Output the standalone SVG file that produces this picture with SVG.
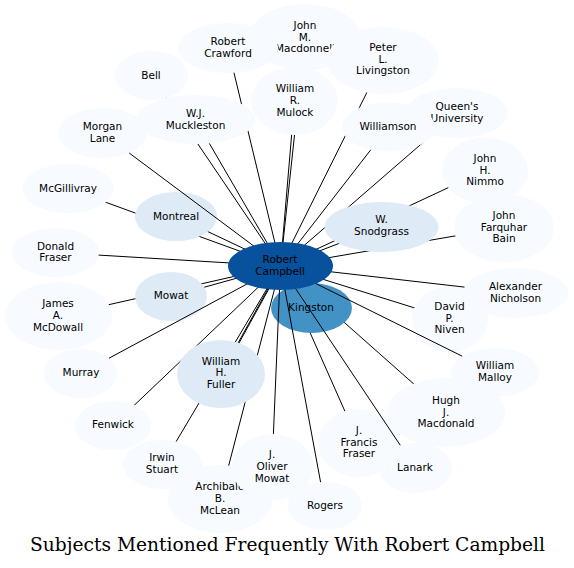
<svg xmlns="http://www.w3.org/2000/svg" width="574" height="568" viewBox="0 0 574 568">
<style>
.e{stroke:#000;stroke-width:1;fill:none}
.l{fill:#f7fbff}
.m{fill:#deebf7}
.k{fill:#4292c6}
.c{fill:#08519c}
text{font-family:"DejaVu Sans","Liberation Sans",sans-serif;font-size:10.5px;fill:#000;text-anchor:middle}
.title{font-family:"DejaVu Serif","Liberation Serif",serif;font-size:18px;text-anchor:middle}
</style>
<rect width="574" height="568" fill="#fff"/>
<g id="connectors-back">
<line class="e" x1="280.5" y1="266" x2="151.5" y2="75.5"/>
<line class="e" x1="280.5" y1="266" x2="228" y2="48"/>
<line class="e" x1="280.5" y1="266" x2="305" y2="37"/>
<line class="e" x1="280.5" y1="266" x2="294.5" y2="101"/>
<line class="e" x1="280.5" y1="266" x2="383" y2="60"/>
<line class="e" x1="280.5" y1="266" x2="388.5" y2="127"/>
<line class="e" x1="280.5" y1="266" x2="457" y2="113"/>
<line class="e" x1="280.5" y1="266" x2="485" y2="170.5"/>
<line class="e" x1="280.5" y1="266" x2="504" y2="227.5"/>
<line class="e" x1="280.5" y1="266" x2="381.5" y2="227"/>
<line class="e" x1="280.5" y1="266" x2="450" y2="319"/>
<line class="e" x1="280.5" y1="266" x2="446" y2="412.5"/>
<line class="e" x1="280.5" y1="266" x2="359" y2="443"/>
<line class="e" x1="280.5" y1="266" x2="220" y2="499"/>
<line class="e" x1="280.5" y1="266" x2="162.5" y2="464.5"/>
<line class="e" x1="280.5" y1="266" x2="113" y2="425.5"/>
<line class="e" x1="280.5" y1="266" x2="221" y2="374"/>
<line class="e" x1="282" y1="265" x2="222.5" y2="373"/>
<line class="e" x1="280.5" y1="266" x2="58.5" y2="316"/>
<line class="e" x1="280.5" y1="266" x2="171" y2="296.5"/>
<line class="e" x1="280.5" y1="266" x2="55.5" y2="252.5"/>
<line class="e" x1="280.5" y1="266" x2="68" y2="188.5"/>
<line class="e" x1="280.5" y1="266" x2="176" y2="216.5"/>
<line class="e" x1="280.5" y1="266" x2="195.5" y2="119.5"/>
<line class="e" x1="280.5" y1="266" x2="311.5" y2="308"/>
</g>
<g id="kingston"><ellipse class="k" cx="311.5" cy="308" rx="40.5" ry="25"/><text x="311" y="311">Kingston</text></g>
<g id="john-m-macdonnell"><ellipse class="l" cx="305" cy="37" rx="56" ry="33"/><text x="305" y="28.8">John</text><text x="305" y="40.5">M.</text><text x="305" y="52.2">Macdonnell</text></g>
<g id="robert-crawford"><ellipse class="l" cx="228" cy="48" rx="50" ry="25"/><text x="228" y="45.2">Robert</text><text x="228" y="56.9">Crawford</text></g>
<g id="peter-l-livingston"><ellipse class="l" cx="383" cy="60.5" rx="56" ry="33.5"/><text x="383" y="51">Peter</text><text x="383" y="62.7">L.</text><text x="383" y="74.4">Livingston</text></g>
<g id="william-r-mulock"><ellipse class="l" cx="294.5" cy="101" rx="43.5" ry="34"/><text x="295" y="92.3">William</text><text x="295" y="104">R.</text><text x="295" y="115.7">Mulock</text></g>
<g id="bell"><ellipse class="l" cx="151.5" cy="75.5" rx="36.5" ry="24.5"/><text x="151" y="78.5">Bell</text></g>
<g id="morgan-lane"><ellipse class="l" cx="102.5" cy="133" rx="44.5" ry="25"/><text x="102.5" y="130.2">Morgan</text><text x="102.5" y="141.9">Lane</text></g>
<g id="wj-muckleston"><ellipse class="l" cx="195.5" cy="119.5" rx="59.5" ry="24.5"/><text x="195.5" y="117">W.J.</text><text x="195.5" y="128.7">Muckleston</text></g>
<g id="queens-university"><ellipse class="l" cx="457" cy="113" rx="51" ry="25"/><text x="457" y="110.2">Queen's</text><text x="457" y="121.9">University</text></g>
<g id="williamson"><ellipse class="l" cx="388.5" cy="127" rx="46.5" ry="24.5"/><text x="388" y="130">Williamson</text></g>
<g id="john-h-nimmo"><ellipse class="l" cx="485" cy="170.5" rx="43" ry="33"/><text x="485" y="161.8">John</text><text x="485" y="173.5">H.</text><text x="485" y="185.2">Nimmo</text></g>
<g id="john-farquhar-bain"><ellipse class="l" cx="504" cy="228" rx="50" ry="34"/><text x="504" y="218.8">John</text><text x="504" y="230.5">Farquhar</text><text x="504" y="242.2">Bain</text></g>
<g id="mcgillivray"><ellipse class="l" cx="68" cy="188.5" rx="46" ry="24.5"/><text x="68" y="191.5">McGillivray</text></g>
<g id="montreal"><ellipse class="m" cx="176" cy="216.5" rx="41" ry="24.5"/><text x="176" y="219.5">Montreal</text></g>
<g id="donald-fraser"><ellipse class="l" cx="55.5" cy="252.5" rx="43.5" ry="24.5"/><text x="55.5" y="249.7">Donald</text><text x="55.5" y="261.4">Fraser</text></g>
<g id="w-snodgrass"><ellipse class="m" cx="381.5" cy="227" rx="57" ry="25"/><text x="381.5" y="222.9">W.</text><text x="381.5" y="234.6">Snodgrass</text></g>
<g id="alexander-nicholson"><ellipse class="l" cx="515.5" cy="293" rx="52.5" ry="25"/><text x="515.5" y="289.8">Alexander</text><text x="515.5" y="301.5">Nicholson</text></g>
<g id="david-p-niven"><ellipse class="l" cx="450" cy="319" rx="38" ry="33"/><text x="449.5" y="309.8">David</text><text x="449.5" y="321.5">P.</text><text x="449.5" y="333.2">Niven</text></g>
<g id="william-malloy"><ellipse class="l" cx="495" cy="372.5" rx="44" ry="24.5"/><text x="495" y="369.3">William</text><text x="495" y="381">Malloy</text></g>
<g id="hugh-j-macdonald"><ellipse class="l" cx="446" cy="412.5" rx="59" ry="34.5"/><text x="446" y="403.8">Hugh</text><text x="446" y="415.5">J.</text><text x="446" y="427.2">Macdonald</text></g>
<g id="j-francis-fraser"><ellipse class="l" cx="359" cy="443" rx="41" ry="34"/><text x="359" y="433.8">J.</text><text x="359" y="445.5">Francis</text><text x="359" y="457.2">Fraser</text></g>
<g id="lanark"><ellipse class="l" cx="415.5" cy="468" rx="36.5" ry="25"/><text x="415" y="471">Lanark</text></g>
<g id="archibald-b-mclean"><ellipse class="l" cx="220" cy="499" rx="52" ry="34"/><text x="220" y="490.3">Archibald</text><text x="220" y="502">B.</text><text x="220" y="513.7">McLean</text></g>
<g id="j-oliver-mowat"><ellipse class="l" cx="272.5" cy="467" rx="41" ry="33"/><text x="272" y="458.3">J.</text><text x="272" y="470">Oliver</text><text x="272" y="481.7">Mowat</text></g>
<g id="rogers"><ellipse class="l" cx="325" cy="506" rx="37" ry="24"/><text x="325" y="509">Rogers</text></g>
<g id="irwin-stuart"><ellipse class="l" cx="162.5" cy="464.5" rx="39.5" ry="24.5"/><text x="162" y="461.4">Irwin</text><text x="162" y="473.1">Stuart</text></g>
<g id="fenwick"><ellipse class="l" cx="113" cy="425.5" rx="38" ry="24.5"/><text x="113" y="428.3">Fenwick</text></g>
<g id="william-h-fuller"><ellipse class="m" cx="221" cy="374" rx="44" ry="34"/><text x="221" y="364.5">William</text><text x="221" y="376.2">H.</text><text x="221" y="387.9">Fuller</text></g>
<g id="murray"><ellipse class="l" cx="80.5" cy="373.5" rx="36.5" ry="24.5"/><text x="81" y="376.4">Murray</text></g>
<g id="james-a-mcdowall"><ellipse class="l" cx="58.5" cy="316" rx="53.5" ry="34"/><text x="58" y="307.2">James</text><text x="58" y="318.9">A.</text><text x="58" y="330.6">McDowall</text></g>
<g id="mowat"><ellipse class="m" cx="171" cy="296.5" rx="36" ry="24.5"/><text x="171" y="299.3">Mowat</text></g>
<g id="connectors-front">
<line class="e" x1="280.5" y1="266" x2="129.2" y2="153"/>
<line class="e" x1="280.5" y1="266" x2="400.3" y2="445.3"/>
<line class="e" x1="280.5" y1="266" x2="320.6" y2="482.2"/>
<line class="e" x1="280.5" y1="266" x2="462.2" y2="356.2"/>
<line class="e" x1="280.5" y1="266" x2="464.5" y2="287.1"/>
<line class="e" x1="280.5" y1="266" x2="273.4" y2="434"/>
<line class="e" x1="280.5" y1="266" x2="109" y2="358.2"/>
</g>
<g id="robert-campbell"><ellipse class="c" cx="280.5" cy="266" rx="52.5" ry="24"/><text x="280" y="263.2">Robert</text><text x="280" y="274.9">Campbell</text></g>
<text class="title" x="287.5" y="551" textLength="515" lengthAdjust="spacingAndGlyphs">Subjects Mentioned Frequently With Robert Campbell</text>
</svg>
